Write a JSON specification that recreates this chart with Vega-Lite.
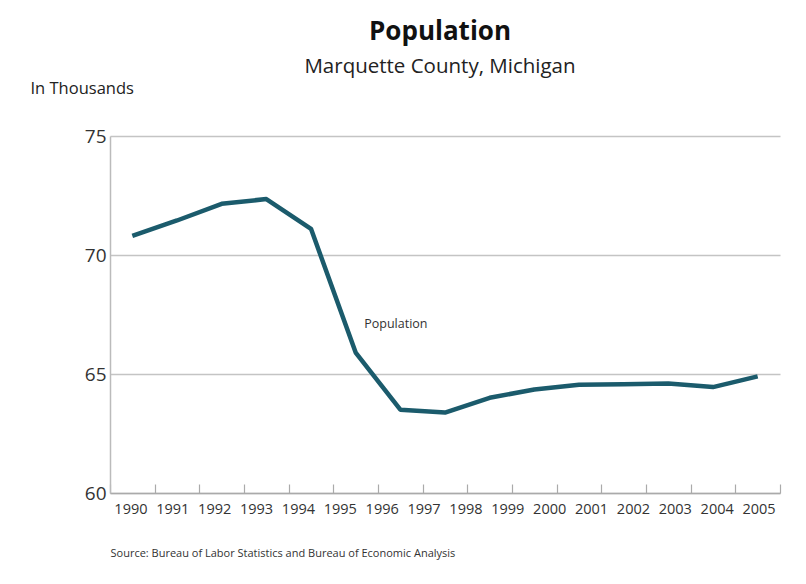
{
  "$schema": "https://vega.github.io/schema/vega-lite/v6.json",
  "width": 670,
  "height": 357,
  "autosize": "none",
  "padding": {"left": 110, "top": 136, "right": 26, "bottom": 91},
  "background": "white",
  "title": {
    "text": "Population",
    "subtitle": "Marquette County, Michigan",
    "anchor": "middle",
    "dx": -5,
    "offset": 3,
    "font": "Open Sans",
    "fontSize": 26,
    "fontWeight": "bold",
    "color": "#111111",
    "subtitleFont": "Open Sans",
    "subtitleFontSize": 20.5,
    "subtitleColor": "#222222",
    "subtitlePadding": 12
  },
  "config": {
    "view": {"stroke": null},
    "axisY": {
      "labelFont": "Open Sans",
      "labelFontSize": 19,
      "labelColor": "#333333",
      "labelPadding": 4,
      "ticks": false,
      "domainColor": "#bbbbbb",
      "domainWidth": 1.5,
      "gridColor": "#c4c4c4",
      "gridWidth": 1.5,
      "titleAngle": 0,
      "titleAlign": "left",
      "titleBaseline": "middle",
      "titleX": -80,
      "titleY": -48,
      "titleFont": "Open Sans",
      "titleFontSize": 16.5,
      "titleFontWeight": "normal",
      "titleColor": "#222222"
    },
    "axisX": {
      "domainColor": "#aaaaaa",
      "domainWidth": 1.5,
      "tickColor": "#aaaaaa",
      "tickWidth": 1.2,
      "tickSize": -9,
      "labels": false,
      "grid": false,
      "titleFont": "Open Sans",
      "titleFontSize": 11,
      "titleFontWeight": "normal",
      "titleColor": "#333333",
      "titleAnchor": "start",
      "titleAlign": "left",
      "titleBaseline": "middle",
      "titleX": 0,
      "titleY": 60
    }
  },
  "layer": [
    {
      "data": {
        "values": [
          {"year": 1990, "population": 70.8},
          {"year": 1991, "population": 71.45},
          {"year": 1992, "population": 72.15},
          {"year": 1993, "population": 72.35},
          {"year": 1994, "population": 71.1},
          {"year": 1995, "population": 65.9},
          {"year": 1996, "population": 63.5},
          {"year": 1997, "population": 63.38},
          {"year": 1998, "population": 64.0},
          {"year": 1999, "population": 64.35},
          {"year": 2000, "population": 64.55},
          {"year": 2001, "population": 64.57},
          {"year": 2002, "population": 64.6},
          {"year": 2003, "population": 64.45},
          {"year": 2004, "population": 64.9}
        ]
      },
      "mark": {"type": "line", "color": "#1b5b6c", "strokeWidth": 4.5, "strokeJoin": "round"},
      "encoding": {
        "x": {
          "field": "year",
          "type": "quantitative",
          "scale": {"domain": [1989.5, 2004.5], "nice": false, "zero": false},
          "axis": {
            "values": [1989.5, 1990.5, 1991.5, 1992.5, 1993.5, 1994.5, 1995.5, 1996.5, 1997.5, 1998.5, 1999.5, 2000.5, 2001.5, 2002.5, 2003.5, 2004.5],
            "title": "Source: Bureau of Labor Statistics and Bureau of Economic Analysis"
          }
        },
        "y": {
          "field": "population",
          "type": "quantitative",
          "scale": {"domain": [60, 75], "nice": false, "zero": false},
          "axis": {"values": [60, 65, 70, 75], "title": "In Thousands"}
        }
      }
    },
    {
      "data": {
        "values": [
          {"year": 1990}, {"year": 1991}, {"year": 1992}, {"year": 1993},
          {"year": 1994}, {"year": 1995}, {"year": 1996}, {"year": 1997},
          {"year": 1998}, {"year": 1999}, {"year": 2000}, {"year": 2001},
          {"year": 2002}, {"year": 2003}, {"year": 2004}, {"year": 2005}
        ]
      },
      "mark": {"type": "text", "font": "Open Sans", "fontSize": 14.5, "color": "#333333", "baseline": "middle", "align": "center", "dy": 17},
      "encoding": {
        "x": {
          "field": "year",
          "type": "quantitative",
          "scale": {"domain": [1989.5, 2005.5], "nice": false, "zero": false},
          "axis": null
        },
        "y": {"datum": 60},
        "text": {"field": "year", "type": "nominal"}
      }
    },
    {
      "data": {"values": [{}]},
      "mark": {"type": "text", "font": "Open Sans", "fontSize": 12.5, "color": "#333333", "baseline": "middle", "align": "center"},
      "encoding": {
        "x": {
          "datum": 1995.9,
          "type": "quantitative",
          "scale": {"domain": [1989.5, 2004.5], "nice": false, "zero": false},
          "axis": null
        },
        "y": {"datum": 67.1},
        "text": {"value": "Population"}
      }
    }
  ],
  "resolve": {"scale": {"x": "independent"}}
}
